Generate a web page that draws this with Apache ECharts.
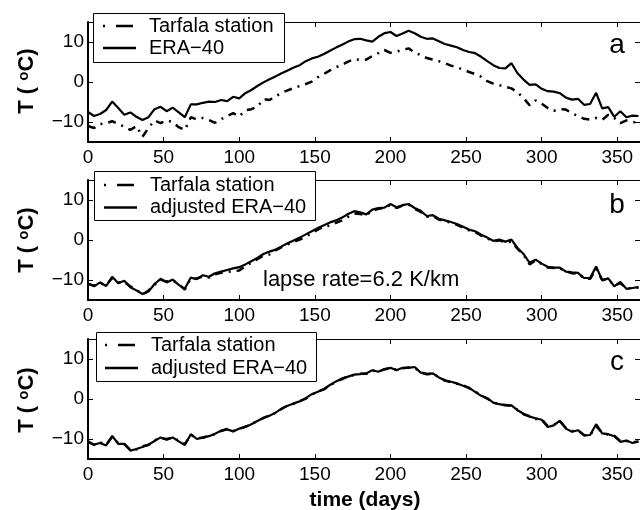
<!DOCTYPE html>
<html><head><meta charset="utf-8">
<script src="https://cdn.jsdelivr.net/npm/echarts@6/dist/echarts.min.js"></script>
<style>html,body{margin:0;padding:0;background:#fff;}#c{width:640px;height:510px;}</style>
</head><body><div id="c"></div><script>
var days = [0,4,8,12,16,20,24,28,32,36,40,44,48,52,56,60,64,68,72,76,80,84,88,92,96,100,104,108,112,116,120,124,128,132,136,140,144,148,152,156,160,164,168,172,176,180,184,188,192,196,200,204,208,212,216,220,224,228,232,236,240,244,248,252,256,260,264,268,272,276,280,284,288,292,296,300,304,308,312,316,320,324,328,332,336,340,344,348,352,356,360,364];

var tarfala = [-11.0,-11.5,-10.5,-10.3,-9.8,-10.5,-11.2,-12.0,-11.0,-13.7,
 -11.5,-9.6,-10.3,-9.6,-10.0,-11.3,-12.0,-8.8,-9.4,-9.0,
 -9.5,-10.2,-9.3,-8.5,-7.8,-8.6,-7.1,-6.8,-6.2,-4.3,
 -4.5,-3.6,-2.7,-2.1,-1.5,-1.0,-0.5,0.1,1.2,2.0,
 2.9,3.7,4.3,5.1,5.7,5.5,5.6,6.5,7.2,8.0,
 7.3,7.6,8.0,8.4,7.4,6.7,6.0,5.6,5.2,4.7,
 4.1,3.7,3.1,2.5,2.0,1.3,0.2,-0.4,-0.8,-1.2,
 -1.6,-2.6,-4.0,-5.8,-4.6,-5.4,-6.5,-7.2,-6.8,-6.9,
 -7.8,-8.5,-9.2,-9.4,-9.0,-9.5,-8.2,-9.0,-10.3,-9.6,
 -10.0,-10.2];

var era40 = [-7.5,-8.5,-8.0,-7.0,-4.9,-6.5,-8.2,-7.6,-8.7,-9.5,
 -8.8,-6.8,-6.2,-7.3,-6.4,-7.6,-8.8,-5.6,-5.6,-5.2,
 -4.9,-5.0,-4.5,-4.8,-3.7,-4.1,-2.8,-2.0,-1.0,-0.1,
 0.7,1.4,2.2,2.9,3.6,4.2,5.2,5.9,6.3,7.0,
 7.8,8.6,9.3,10.1,10.7,10.8,10.4,10.1,11.3,12.2,
 12.5,11.5,12.1,12.8,12.2,11.3,10.8,10.9,10.2,9.5,
 9.1,8.7,8.0,7.5,7.2,6.3,5.2,4.2,3.5,3.4,
 4.7,2.2,0.6,-0.7,-0.6,-1.7,-2.3,-2.4,-2.8,-3.9,
 -4.4,-4.2,-5.7,-5.5,-2.7,-6.6,-6.3,-8.7,-7.3,-8.8,
 -8.4,-8.5];

var tarfalaB = [-11.0,-11.4,-10.8,-11.3,-9.5,-10.6,-10.5,-11.6,-12.4,-13.7,
 -12.6,-11.2,-9.9,-10.4,-10.1,-11.0,-12.4,-9.6,-9.6,-9.1,
 -9.4,-8.6,-8.2,-8.0,-7.8,-7.6,-6.6,-5.7,-4.8,-3.9,
 -3.6,-2.6,-1.8,-1.1,-0.5,0.1,0.8,1.8,2.6,3.4,
 3.6,4.3,4.9,5.8,6.6,6.5,6.2,7.3,7.8,8.0,
 8.8,8.0,8.6,8.8,7.8,7.0,5.8,6.0,5.1,4.7,
 4.3,3.8,3.1,2.4,2.0,1.1,0.4,-0.3,-0.1,-0.6,
 -0.4,-2.2,-3.7,-6.1,-5.1,-6.0,-6.9,-7.0,-7.1,-7.8,
 -8.3,-8.4,-9.6,-9.7,-7.2,-10.0,-9.8,-11.4,-10.8,-12.0,
 -12.1,-11.9];

var eraAdjB = [-10.8,-11.6,-10.6,-11.5,-9.2,-10.8,-10.2,-11.8,-12.6,-13.5,
 -12.9,-11.0,-9.7,-10.6,-9.9,-11.2,-12.2,-9.4,-9.8,-8.8,
 -9.2,-8.3,-7.9,-7.5,-7.1,-6.8,-6.1,-5.3,-4.5,-3.5,
 -2.9,-2.4,-1.6,-0.8,-0.1,0.6,1.4,2.2,3.0,3.7,
 4.4,4.9,5.6,6.5,7.2,6.9,6.4,7.6,8.0,8.1,
 9.0,8.2,8.7,9.0,8.0,7.3,6.0,6.2,5.3,4.9,
 4.5,4.0,3.3,2.6,2.2,1.3,0.6,-0.2,0.1,-0.4,
 0.1,-2.0,-3.5,-5.7,-4.9,-5.9,-6.7,-6.9,-6.9,-7.9,
 -8.1,-8.2,-9.5,-9.5,-6.6,-10.1,-9.6,-11.6,-10.5,-12.2,
 -12.0,-11.8];

var tarfalaC = [-10.6,-11.5,-10.8,-11.4,-9.5,-11.0,-11.3,-12.7,-12.6,-11.8,
 -11.5,-10.3,-9.8,-10.0,-9.7,-10.4,-11.3,-9.0,-9.8,-9.7,
 -9.2,-8.8,-8.0,-7.5,-8.0,-7.5,-6.9,-6.4,-5.4,-4.8,
 -4.1,-3.5,-2.5,-1.6,-1.2,-0.5,0.1,1.1,1.9,2.4,
 3.4,4.3,5.0,5.7,6.0,6.3,6.3,7.1,6.9,7.4,
 7.7,7.3,7.7,7.9,7.8,6.7,6.2,6.3,5.5,4.6,
 4.2,3.8,3.4,2.7,1.9,0.9,0.1,-0.8,-1.4,-1.5,
 -1.7,-2.7,-3.8,-4.3,-5.0,-5.1,-6.8,-6.4,-5.6,-7.2,
 -8.0,-7.9,-9.0,-9.1,-6.8,-8.4,-8.9,-9.2,-10.5,-10.5,
 -10.8,-10.7];

var eraAdjC = [-10.8,-11.4,-11.0,-11.6,-9.2,-11.2,-11.2,-12.9,-12.5,-12.0,
 -11.4,-10.5,-9.6,-10.2,-9.6,-10.6,-11.5,-8.8,-10.0,-9.6,
 -9.3,-8.7,-7.9,-7.6,-8.1,-7.4,-7.0,-6.3,-5.5,-4.7,
 -4.2,-3.4,-2.4,-1.7,-1.1,-0.6,0.2,1.2,1.8,2.5,
 3.5,4.4,5.1,5.6,6.1,6.2,6.4,7.2,6.8,7.5,
 7.8,7.2,7.8,7.8,8.0,6.6,6.3,6.4,5.4,4.7,
 4.3,3.9,3.3,2.8,1.8,0.8,0.2,-0.9,-1.3,-1.6,
 -1.6,-2.8,-3.7,-4.4,-4.8,-5.2,-7.0,-6.6,-5.4,-7.4,
 -8.2,-7.8,-9.1,-9.0,-6.3,-8.6,-8.8,-9.3,-10.7,-10.4,
 -11.0,-10.6];

var xTicks = [0,50,100,150,200,250,300,350];
var yTicks = [-10,0,10];
var panelLetters = ['a','b','c'];
var legendNames = [['Tarfala station','ERA\u221240'],['Tarfala station','adjusted ERA\u221240'],['Tarfala station','adjusted ERA\u221240']];
var panelSeries = [[tarfala, era40],[tarfalaB, eraAdjB],[tarfalaC, eraAdjC]];
var note = 'lapse rate=6.2 K/km';

var FF = '"Liberation Sans", Arial, Helvetica, sans-serif';
var gridTops = [22, 180, 339];
var DASH = [8,6,2,6];

function pairs(arr){ return days.map(function(d,i){ return [d, arr[i]]; }); }
function fmt(v){ return String(v).replace('-', '\u2212'); }

var grids = [], xAxes = [], yAxes = [], series = [], graphics = [];
gridTops.forEach(function(t, p){
  grids.push({left:88, top:t, width:555, height:120});
  xAxes.push({type:'value', gridIndex:p, position:'bottom', min:0, max:365,
    axisLine:{show:true, onZero:false, lineStyle:{color:'#000', width:2}},
    axisTick:{show:true, inside:true, length:5, customValues:xTicks, lineStyle:{color:'#000', width:1}},
    axisLabel:{customValues:xTicks, color:'#000', fontSize:19, fontFamily:FF, margin:6},
    splitLine:{show:false}});
  xAxes.push({type:'value', gridIndex:p, position:'top', min:0, max:365,
    axisLine:{show:true, onZero:false, lineStyle:{color:'#000', width:1}},
    axisTick:{show:true, inside:true, length:5, customValues:xTicks, lineStyle:{color:'#000', width:1}},
    axisLabel:{show:false}, splitLine:{show:false}});
  yAxes.push({type:'value', gridIndex:p, position:'left', min:-15, max:15,
    axisLine:{show:true, onZero:false, lineStyle:{color:'#000', width:2}},
    axisTick:{show:true, inside:true, length:5, customValues:yTicks, lineStyle:{color:'#000', width:1}},
    axisLabel:{customValues:yTicks, color:'#000', fontSize:19, fontFamily:FF, margin:4, formatter:fmt},
    splitLine:{show:false}});
  yAxes.push({type:'value', gridIndex:p, position:'right', min:-15, max:15,
    axisLine:{show:true, onZero:false, lineStyle:{color:'#000', width:1}},
    axisTick:{show:true, inside:true, length:5, customValues:yTicks, lineStyle:{color:'#000', width:1}},
    axisLabel:{show:false}, splitLine:{show:false}});
  series.push({type:'line', name:legendNames[p][0], xAxisIndex:2*p, yAxisIndex:2*p, data:pairs(panelSeries[p][0]),
    showSymbol:false, symbol:'none', lineStyle:{color:'#000', width:2.5, type:DASH}, z:2});
  series.push({type:'line', name:legendNames[p][1], xAxisIndex:2*p, yAxisIndex:2*p, data:pairs(panelSeries[p][1]),
    showSymbol:false, symbol:'none', lineStyle:{color:'#000', width:2.2}, z:3});
});

var legBoxes = [
  {x:93.5, y:13.5, w:191, h:49, r1:26, r2:48, ix:103, tx:149},
  {x:94.5, y:171.5, w:221, h:49, r1:185, r2:207.5, ix:104, tx:150},
  {x:96.5, y:332.5, w:220, h:49, r1:345, r2:368, ix:105, tx:151}
];
legBoxes.forEach(function(b, p){
  graphics.push({type:'rect', z:100, shape:{x:b.x, y:b.y, width:b.w, height:b.h}, style:{fill:'#fff', stroke:'#000', lineWidth:1}});
  graphics.push({type:'line', z:101, shape:{x1:b.ix, y1:b.r1, x2:b.ix+32, y2:b.r1}, style:{stroke:'#000', lineWidth:2.5, lineDash:[2,11,17,100]}});
  graphics.push({type:'line', z:101, shape:{x1:b.ix, y1:b.r2, x2:b.ix+33, y2:b.r2}, style:{stroke:'#000', lineWidth:2.5}});
  graphics.push({type:'text', z:101, x:b.tx, y:b.r1, style:{text:legendNames[p][0], fontSize:20, fontFamily:FF, fill:'#000', textAlign:'left', textVerticalAlign:'middle'}});
  graphics.push({type:'text', z:101, x:b.tx, y:b.r2, style:{text:legendNames[p][1], fontSize:20, fontFamily:FF, fill:'#000', textAlign:'left', textVerticalAlign:'middle'}});
});
[[617, 45],[617, 205],[617, 362]].forEach(function(pos, p){
  graphics.push({type:'text', z:50, x:pos[0], y:pos[1], style:{text:panelLetters[p], fontSize:28, fontFamily:FF, fill:'#000', textAlign:'center', textVerticalAlign:'middle'}});
});
[81, 240, 400].forEach(function(cy){
  graphics.push({type:'text', z:50, x:27, y:cy, rotation:Math.PI/2,
    style:{text:'T ( {s|o}C)', fontSize:22, fontWeight:'bold', fontFamily:FF, fill:'#000', textAlign:'center', textVerticalAlign:'middle',
      rich:{s:{fontSize:15, fontWeight:'bold', fontFamily:FF, fill:'#000', verticalAlign:'top'}}}});
});
graphics.push({type:'text', z:50, x:365, y:500, style:{text:'time (days)', fontSize:21, fontWeight:'bold', fontFamily:FF, fill:'#000', textAlign:'center', textVerticalAlign:'middle'}});
graphics.push({type:'text', z:50, x:263, y:280, style:{text:note, fontSize:22, fontFamily:FF, fill:'#000', textAlign:'left', textVerticalAlign:'middle'}});

var chart = echarts.init(document.getElementById('c'), null, {renderer:'canvas'});
chart.setOption({animation:false, backgroundColor:'#fff', grid:grids, xAxis:xAxes, yAxis:yAxes, series:series, graphic:graphics});
</script></body></html>
